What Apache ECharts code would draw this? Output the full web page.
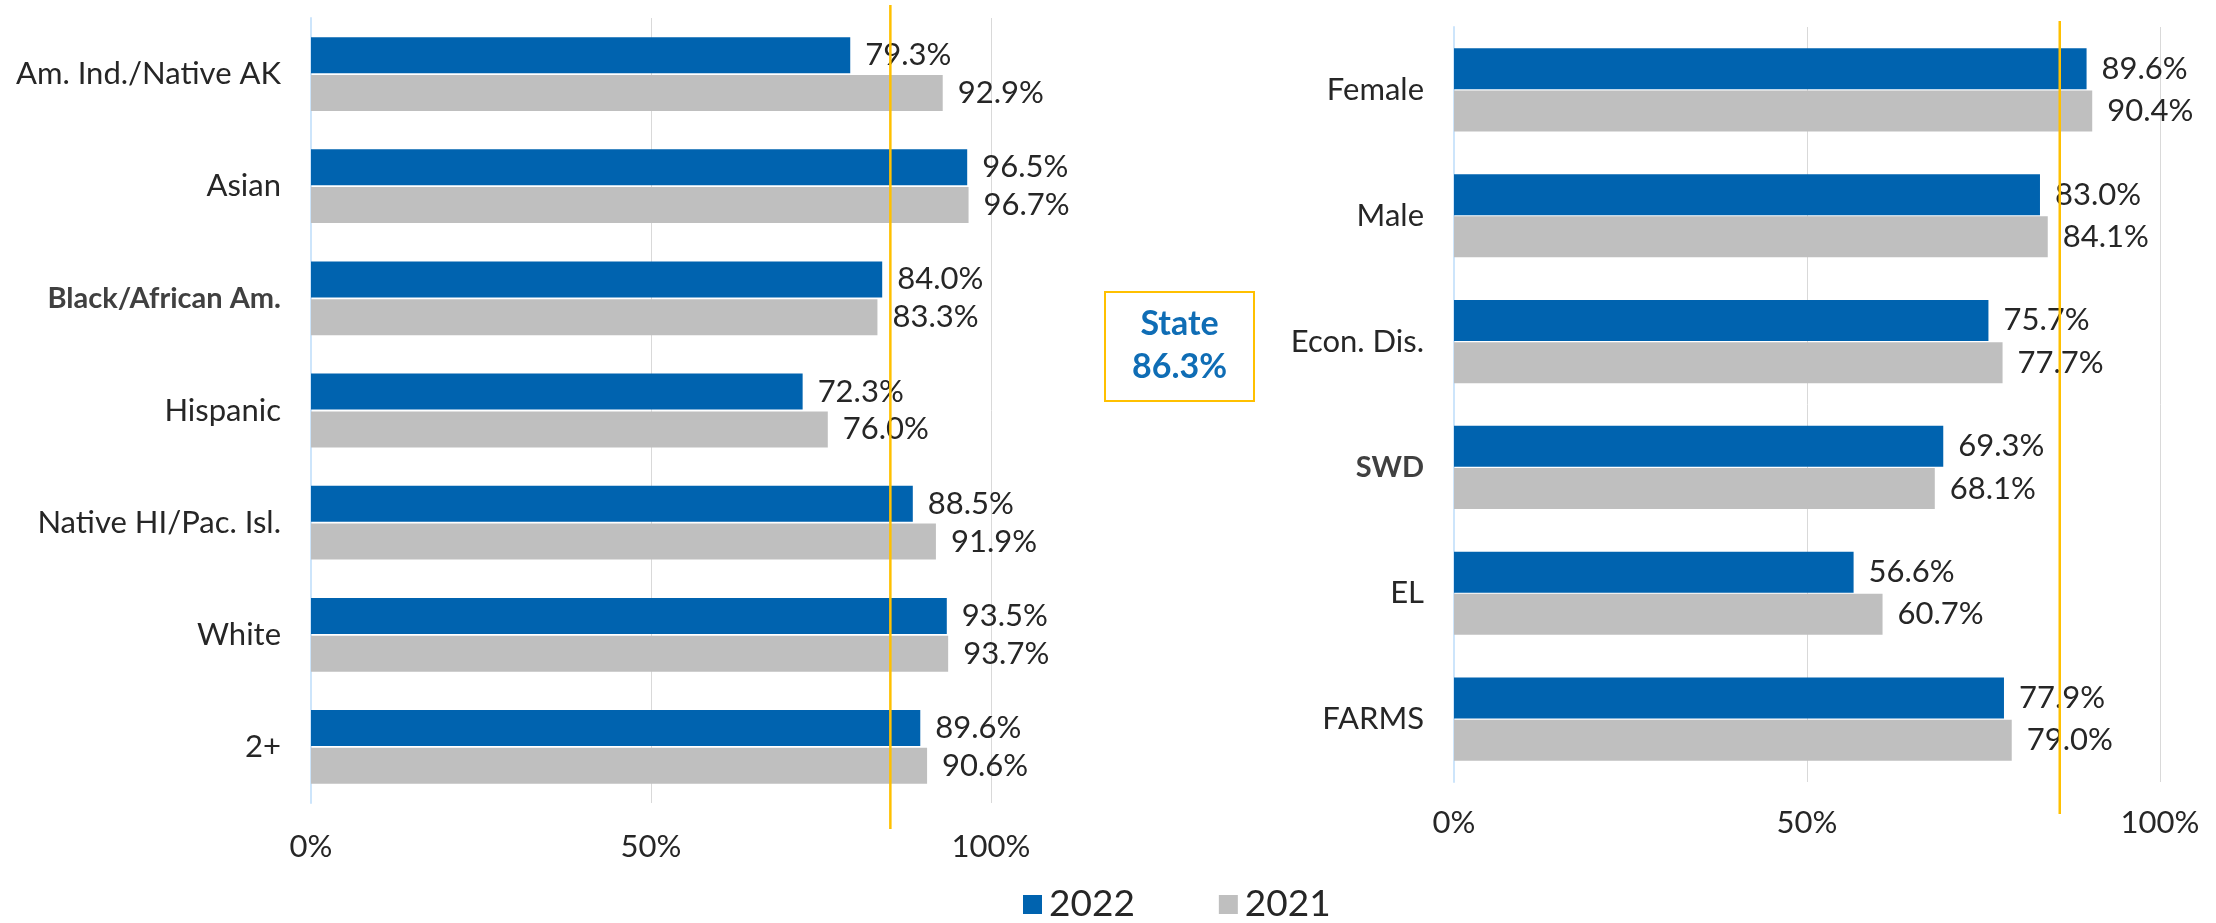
<!DOCTYPE html>
<html>
<head>
<meta charset="utf-8">
<script src="https://cdn.jsdelivr.net/npm/echarts@6/dist/echarts.min.js"></script>
<style>
html,body{margin:0;padding:0;background:#fff;}
#main{width:2216px;height:923px;}
</style>
</head>
<body>
<div id="main"></div>
<script>
// ---- data ----
const raceCategories = ['Am. Ind./Native AK','Asian','Black/African Am.','Hispanic','Native HI/Pac. Isl.','White','2+'];
const race2022 = [79.3, 96.5, 84.0, 72.3, 88.5, 93.5, 89.6];
const race2021 = [92.9, 96.7, 83.3, 76.0, 91.9, 93.7, 90.6];

const groupCategories = ['Female','Male','Econ. Dis.','SWD','EL','FARMS'];
const group2022 = [89.6, 83.0, 75.7, 69.3, 56.6, 77.9];
const group2021 = [90.4, 84.1, 77.7, 68.1, 60.7, 79.0];

const seriesNames = ['2022','2021'];
const stateValue = 86.3;
// where the state reference line is drawn on each panel (axis units)
const stateLineLeft = 85.2;
const stateLineRight = 85.8;
const xTicks = [0, 50, 100];

// ---- style ----
const FONT = 'Lato';
const BLUE = '#0063AF';
const GRAY = '#BFBFBF';
const GOLD = '#FFC000';
const TEXT = '#262626';
const boldLabels = new Set(['Black/African Am.','SWD']);

const chart = echarts.init(document.getElementById('main'), null, {renderer:'canvas'});

function catAxis(gridIndex, cats){
  return {
    type:'category', gridIndex, data:cats, inverse:true,
    axisLine:{show:true, lineStyle:{color:'#CDE5FB', width:2}},
    axisTick:{show:false},
    axisLabel:{
      margin:30, fontFamily:FONT, fontSize:31, color:TEXT,
      formatter:(v)=> boldLabels.has(v) ? '{b|'+v+'}' : v,
      rich:{b:{fontFamily:FONT, fontSize:29, fontWeight:'bold', color:'#404040'}}
    }
  };
}
function valAxis(gridIndex, margin){
  return {
    type:'value', gridIndex, min:xTicks[0], max:xTicks[xTicks.length-1], interval:xTicks[1]-xTicks[0],
    axisLine:{show:false}, axisTick:{show:false},
    splitLine:{show:true, lineStyle:{color:'#D9D9D9', width:1}},
    axisLabel:{margin, fontFamily:FONT, fontSize:31, color:TEXT, formatter:'{value}%'}
  };
}
function barSeries(name, idx, data, color, width, gap){
  return {
    name, type:'bar', xAxisIndex:idx, yAxisIndex:idx, data,
    barWidth:width, barGap:gap,
    itemStyle:{color},
    label:{show:true, position:'right', distance:15, fontFamily:FONT, fontSize:31, color:TEXT,
      formatter:(p)=> p.value.toFixed(1)+'%'},
    z:2
  };
}

const option = {
  animation:false,
  backgroundColor:'#fff',
  grid:[
    {left:311, width:680, top:18, height:785},
    {left:1454, width:706, top:27, height:755}
  ],
  xAxis:[valAxis(0,28), valAxis(1,25)],
  yAxis:[catAxis(0, raceCategories), catAxis(1, groupCategories)],
  legend:{
    data:seriesNames, left:1018, top:881, icon:'rect', itemWidth:19, itemHeight:19, itemGap:84,
    textStyle:{fontFamily:FONT, fontSize:37, color:TEXT, padding:[0,0,0,2]}
  },
  series:[
    barSeries(seriesNames[0], 0, race2022, BLUE, 36, '5%'),
    barSeries(seriesNames[1], 0, race2021, GRAY, 36, '5%'),
    barSeries(seriesNames[0], 1, group2022, BLUE, 41, '3%'),
    barSeries(seriesNames[1], 1, group2021, GRAY, 41, '3%')
  ]
};
chart.setOption(option);

const xl = chart.convertToPixel({xAxisIndex:0}, stateLineLeft);
const xr = chart.convertToPixel({xAxisIndex:1}, stateLineRight);
chart.setOption({
  graphic:[
    {type:'line', shape:{x1:xl, y1:5, x2:xl, y2:829}, style:{stroke:GOLD, lineWidth:2.5}, z:10},
    {type:'line', shape:{x1:xr, y1:21, x2:xr, y2:814}, style:{stroke:GOLD, lineWidth:2.5}, z:10},
    {type:'rect', shape:{x:1105, y:292, width:149, height:109}, style:{fill:'#fff', stroke:GOLD, lineWidth:2}, z:10},
    {type:'text', x:1179.5, y:346, z:11,
      style:{text:'State\n'+stateValue.toFixed(1)+'%', fontFamily:FONT, fontSize:34, fontWeight:'bold',
        fill:'#0F6DB5', align:'center', verticalAlign:'middle', lineHeight:43}}
  ]
});
</script>
</body>
</html>
